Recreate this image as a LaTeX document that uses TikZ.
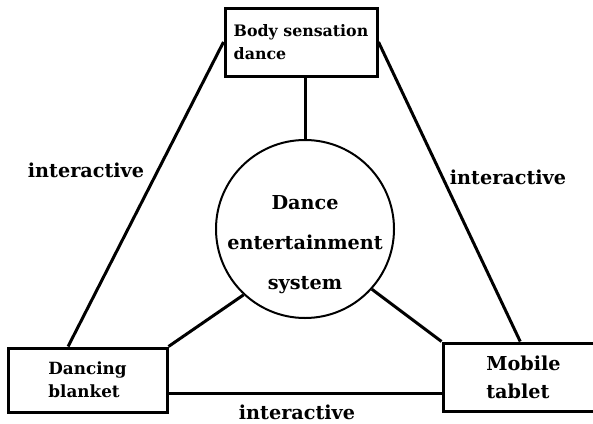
\documentclass[tikz,border=0pt]{standalone}
\usepackage{fontspec}
\setmainfont{DejaVu Serif}
\usetikzlibrary{calc}

\begin{document}
\begin{tikzpicture}[x=0.5pt, y=-0.5pt, line width=1.5pt,
		box/.style = {draw, rectangle, line width=1.5pt, inner sep=0pt},
		hub/.style = {draw, circle, line width=1pt, minimum size=89pt, inner sep=0pt},
		small/.style = {font=\bfseries\fontsize{7.9}{11.5}\selectfont},
		big/.style = {font=\bfseries\fontsize{9.6}{14}\selectfont}]
		
		\useasboundingbox (0,0) rectangle (593,423);
		
		\node[box, small, minimum width=76pt, minimum height=34pt, align=left] (body) at (301,42) {Body sensation\\dance};
		\node[hub] (sys) at (305,229) {};
		\node[big, align=center] (systxt) at (305,245) {Dance\\[6pt]entertainment\\[6pt]system};
		\node[box, small, font=\bfseries\fontsize{8.4}{11.5}\selectfont, minimum width=79.5pt, minimum height=32pt, align=left] (blanket) at (87.5,380) {Dancing\\blanket};
		\node[box, big, minimum width=80.5pt, minimum height=34pt, align=left] (tablet) at (523.5,377) {Mobile\\tablet};
		
		\draw[-] (body.south -| sys.north) to (sys.north);
		\draw[-] (body.west) to ($(blanket.north west)!0.38!(blanket.north east)$);
		\draw[-] (body.east) to ($(tablet.north west)!0.48!(tablet.north east)$);
		\draw[-] (sys.227) to (blanket.north east);
		\draw[-] (sys.318) to (tablet.north west);
		\draw[-] ($(blanket.north east)!0.7!(blanket.south east)$) coordinate (h) to (h -| tablet.west);
		
		\node[big] (left) at (86,170) {interactive};
		\node[big] (right) at (508,177) {interactive};
		\node[big] (bottom) at (297,412) {interactive};
		
	\end{tikzpicture}
\end{document}
